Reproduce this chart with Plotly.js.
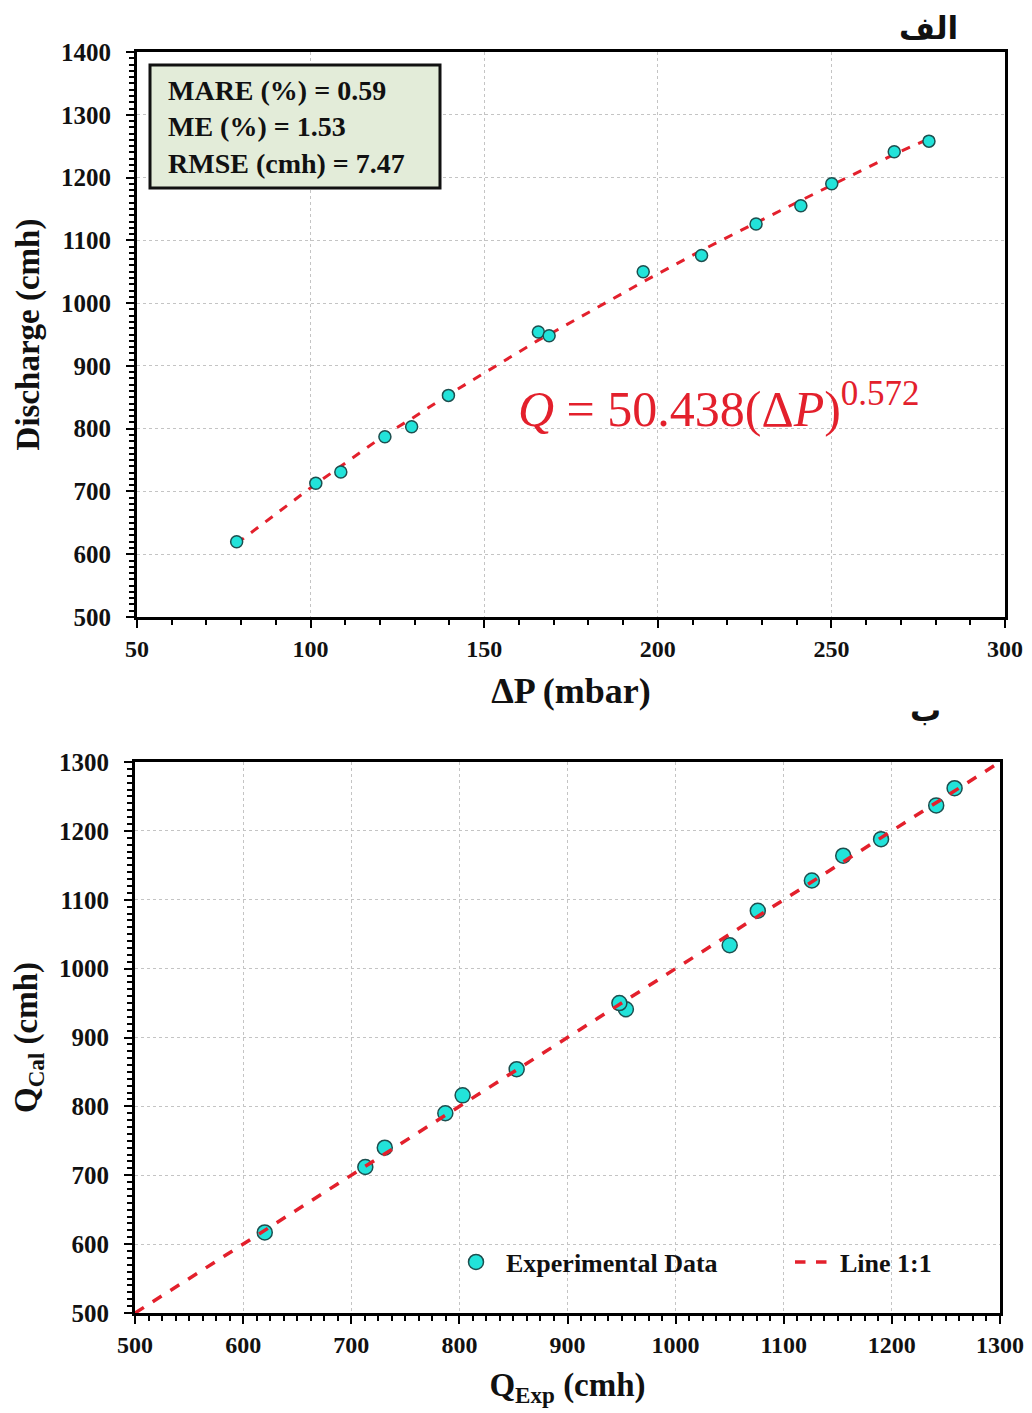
<!DOCTYPE html>
<html>
<head>
<meta charset="utf-8">
<script src="https://cdn.plot.ly/plotly-3.0.1.min.js"></script>
<style>html,body{margin:0;padding:0;background:#fff;}#chart{width:1032px;height:1413px;}</style>
</head>
<body>
<div id="chart"></div>
<script>
// ---- Data ----
// Panel الف : discharge vs pressure drop
const deltaP = [78.7, 101.5, 108.7, 121.4, 129.1, 139.7, 165.6, 168.7, 195.8, 212.6, 228.3, 241.2, 250.1, 268.1, 278.1];
const qExp   = [620, 713, 731, 787, 803, 853, 954, 948, 1050, 1076, 1126, 1155, 1190, 1241, 1258];
// Panel ب : calculated discharge (same order as deltaP / qExp)
const qCal   = [617, 712, 740, 790, 816, 854, 941, 950, 1034, 1084, 1128, 1164, 1188, 1237, 1262];
// 1:1 reference line end points
const lineOne = [500, 1300];
// Stats text
const statsLines = ["MARE (%) = 0.59", "ME (%) = 1.53", "RMSE (cmh) = 7.47"];
const panelLabels = ["الف", "ب"];

const serif = 'Liberation Serif, Times New Roman, serif';
const cyan = '#22e3da';
const edge = '#1d4f4f';
const red = '#e3202c';

const markerTop = {size: 12, color: cyan, line: {color: edge, width: 1.5}};
const markerBot = {size: 15, color: cyan, line: {color: edge, width: 1.5}};

const traces = [
  {x: deltaP, y: qCal, mode: 'lines', line: {color: red, width: 3, dash: 'dash'},
   xaxis: 'x', yaxis: 'y', showlegend: false, hoverinfo: 'skip'},
  {x: deltaP, y: qExp, mode: 'markers', marker: markerTop,
   xaxis: 'x', yaxis: 'y', showlegend: false},
  {x: qExp, y: qCal, mode: 'markers', marker: markerBot, name: 'Experimental Data',
   xaxis: 'x2', yaxis: 'y2', legend: 'legend'},
  {x: lineOne, y: lineOne, mode: 'lines', line: {color: red, width: 3.5, dash: 'dash'},
   name: 'Line 1:1', xaxis: 'x2', yaxis: 'y2', legend: 'legend2'}
];

const tickFont = {family: serif, size: 24, color: '#111', weight: 'bold'};
const yTickFont = {family: serif, size: 25, color: '#111', weight: 'bold'};
function axis(extra) {
  return Object.assign({
    showline: true, linecolor: '#000', linewidth: 3, mirror: true,
    ticks: 'outside', ticklen: 8, tickwidth: 2, tickcolor: '#000',
    showgrid: true, gridcolor: '#c4c4c4', gridwidth: 1, griddash: 'dot',
    zeroline: false, tickfont: tickFont, fixedrange: true
  }, extra);
}
function minor(d) {
  return {dtick: d, ticks: 'outside', ticklen: 5, tickwidth: 2, tickcolor: '#000', showgrid: false};
}
const legendFont = {family: serif, size: 26, color: '#111', weight: 'bold'};

const layout = {
  width: 1032, height: 1413,
  margin: {l: 0, r: 0, t: 0, b: 0},
  paper_bgcolor: '#fff', plot_bgcolor: '#fff',
  showlegend: true,
  xaxis: axis({domain: [137/1032, 1005/1032], range: [50, 300], dtick: 50, tick0: 50, anchor: 'y',
    minor: minor(10),
    title: {text: 'ΔP (mbar)', font: {family: serif, size: 36, color: '#111', weight: 'bold'}, standoff: 18}}),
  yaxis: axis({domain: [(1413-617)/1413, (1413-52)/1413], range: [500, 1400], dtick: 100, tick0: 500, anchor: 'x',
    minor: minor(10), tickfont: yTickFont, ticklabelstandoff: 10,
    title: {text: 'Discharge (cmh)', font: {family: serif, size: 33, color: '#111', weight: 'bold'}, standoff: 12}}),
  xaxis2: axis({domain: [135/1032, 1000/1032], range: [500, 1300], dtick: 100, tick0: 500, anchor: 'y2',
    minor: minor(12.5),
    title: {text: 'Q<sub>Exp</sub> (cmh)', font: {family: serif, size: 33, color: '#111', weight: 'bold'}, standoff: 17}}),
  yaxis2: axis({domain: [(1413-1313)/1413, (1413-762)/1413], range: [500, 1300], dtick: 100, tick0: 500, anchor: 'x2',
    minor: minor(10), tickfont: yTickFont, ticklabelstandoff: 10,
    title: {text: 'Q<sub>Cal</sub> (cmh)', font: {family: serif, size: 33, color: '#111', weight: 'bold'}, standoff: 12}}),
  legend: {orientation: 'h', x: 446/1032, y: (1413-1262)/1413, xanchor: 'left', yanchor: 'middle',
    bgcolor: 'rgba(0,0,0,0)', font: legendFont, itemwidth: 50},
  legend2: {orientation: 'h', x: 790/1032, y: (1413-1262)/1413, xanchor: 'left', yanchor: 'middle',
    bgcolor: 'rgba(0,0,0,0)', font: legendFont, itemwidth: 40},
  shapes: [
    {type: 'rect', xref: 'x domain', yref: 'y domain',
     x0: (150-137)/868, x1: (440-137)/868, y0: (617-188)/565, y1: (617-65)/565,
     fillcolor: '#e3ecd9', line: {color: '#111', width: 3}, layer: 'above'}
  ],
  annotations: [
    {xref: 'x domain', yref: 'y domain', x: (166-137)/868, y: (617-127)/565,
     xanchor: 'left', yanchor: 'middle', align: 'left', showarrow: false,
     text: statsLines.join('<br>'),
     font: {family: serif, size: 28, color: '#111', weight: 'bold'}},
    {xref: 'x domain', yref: 'y domain', x: (516-137)/868, y: (617-405)/565,
     xanchor: 'left', yanchor: 'middle', showarrow: false,
     text: '<i>Q</i> = 50.438(Δ<i>P</i>)<sup>0.572</sup>',
     font: {family: serif, size: 50, color: red}},
    {xref: 'paper', yref: 'paper', x: 928/1032, y: (1413-28)/1413, xanchor: 'center', yanchor: 'middle',
     showarrow: false, text: panelLabels[0],
     font: {family: 'DejaVu Sans', size: 31, color: '#111', weight: 'bold'}},
    {xref: 'paper', yref: 'paper', x: 925/1032, y: (1413-710)/1413, xanchor: 'center', yanchor: 'middle',
     showarrow: false, text: panelLabels[1],
     font: {family: 'DejaVu Sans', size: 31, color: '#111', weight: 'bold'}}
  ]
};

Plotly.newPlot('chart', traces, layout, {displayModeBar: false, staticPlot: true});
</script>
</body>
</html>
